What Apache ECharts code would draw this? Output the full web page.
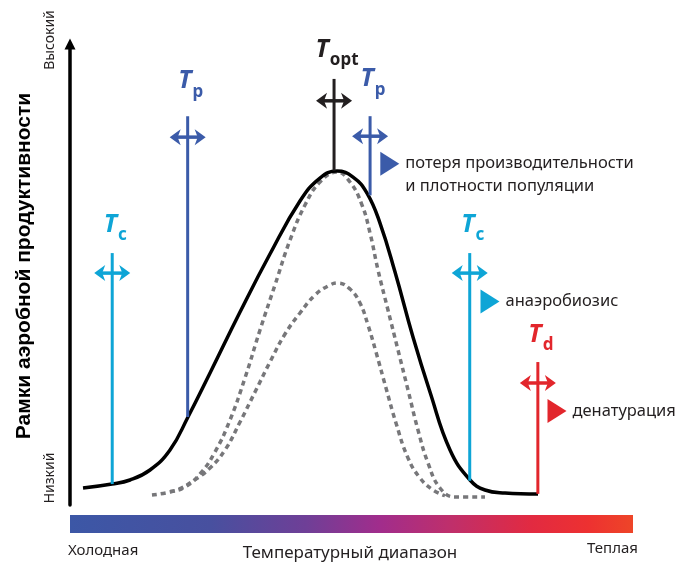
<!DOCTYPE html>
<html>
<head>
<meta charset="utf-8">
<script src="https://cdn.jsdelivr.net/npm/echarts@6/dist/echarts.min.js"></script>
<style>
html,body{margin:0;padding:0;background:#fff;}
#chart{width:676px;height:566px;}
</style>
</head>
<body>
<div id="chart"></div>
<script>
// ---- data (temperature 0..100 across the bar, aerobic scope 0..99) ----
const performanceCurve = [
  [2.31,3.65],[7.46,4.51],[10.66,5.37],[14.21,7.52],[17.76,11.81],[20.96,18.90],
  [24.87,28.34],[30.20,41.44],[35.52,53.90],[40.85,65.28],[44.40,70.22],[47.42,71.72],
  [50.27,70.43],[52.75,67.00],[55.06,60.55],[57.73,50.03],[60.92,36.07],[63.94,24.26],
  [67.50,11.81],[71.05,5.37],[73.71,3.22],[77.26,2.58],[83.13,2.36]
];
const upperDashed = [
  [14.56,2.15],[17.76,2.79],[20.43,3.87],[23.09,6.66],[25.75,11.38],[28.42,18.25],
  [31.08,27.27],[33.75,37.58],[36.41,47.24],[39.08,56.90],[41.74,64.42],[44.40,69.36],
  [47.42,71.51],[49.73,69.36],[51.87,64.42],[53.29,58.41],[54.71,50.46],[56.48,41.87],
  [58.26,33.28],[60.04,24.69],[61.81,16.10],[63.59,9.02],[65.72,3.65],[68.38,1.72],[73.71,1.72]
];
const lowerDashed = [
  [17.76,2.90],[19.01,3.22],[21.85,5.15],[24.87,7.95],[27.53,11.81],[30.20,17.82],
  [32.86,24.26],[35.52,30.71],[38.19,36.72],[40.85,41.23],[43.52,45.09],[45.83,47.03],
  [47.60,47.67],[49.73,46.38],[51.51,43.38],[52.93,38.65],[54.35,32.85],[56.13,25.12],
  [57.90,17.61],[60.04,10.09],[62.17,5.80],[64.48,3.22],[66.60,2.00]
];
const thresholdSub   = ['c','p','opt','p','c','d'];
const thresholdX     = [7.5, 20.9, 46.9, 53.3, 71.0, 83.1];
const thresholdBase  = [4.5, 18.9, 71.8, 66.5, 5.2, 2.4];
const thresholdTop   = [54.1, 83.5, 91.5, 83.5, 54.1, 30.7];
const thresholdArrow = [49.8, 79.0, 86.8, 79.2, 49.8, 26.2];
const thresholdLabel = [58.4, 89.2, 96.0, 89.6, 58.4, 34.8];
const thresholdColor = ['#0ea5d6','#3b5ba9','#231f20','#3b5ba9','#0ea5d6','#e2262c'];

const noteText  = ['потеря производительности\nи плотности популяции','анаэробиозис','денатурация'];
const noteX     = [56.8, 74.6, 86.5];
const noteY     = [73.3, 43.7, 20.2];
const noteColor = ['#3b5ba9','#0ea5d6','#e2262c'];

const axisLow = 'Низкий', axisHigh = 'Высокий';
const axisTitle = 'Рамки аэробной продуктивности';
const tempLow = 'Холодная', tempHigh = 'Теплая', tempTitle = 'Температурный диапазон';

// ---- chart ----
const chart = echarts.init(document.getElementById('chart'), null, {renderer:'canvas'});
const FONT = '"Noto Sans", "Open Sans", sans-serif';
const INK = '#231f20';

const thresholdData = thresholdX.map((x,i)=>[x, thresholdBase[i], thresholdTop[i], thresholdArrow[i], thresholdLabel[i]]);

function headPts(tipX, y, dir){
  return [[tipX, y],[tipX - dir*11, y-8],[tipX - dir*8, y],[tipX - dir*11, y+8]];
}

function renderThreshold(params, api){
  const i = params.dataIndex;
  const x = api.value(0);
  const pb = api.coord([x, api.value(1)]);
  const pt = api.coord([x, api.value(2)]);
  const pa = api.coord([x, api.value(3)]);
  const pl = api.coord([x, api.value(4)]);
  const c = thresholdColor[i];
  const cx = pb[0];
  const half = 18;
  return {
    type:'group',
    children:[
      {type:'line', shape:{x1:cx,y1:pb[1],x2:cx,y2:pt[1]}, style:{stroke:c,lineWidth:3}},
      {type:'line', shape:{x1:cx-half+6,y1:pa[1],x2:cx+half-6,y2:pa[1]}, style:{stroke:c,lineWidth:3.5}},
      {type:'polygon', shape:{points:headPts(cx-half, pa[1], -1)}, style:{fill:c}},
      {type:'polygon', shape:{points:headPts(cx+half, pa[1], 1)}, style:{fill:c}},
      {type:'text', x: cx+3, y: pl[1]+11, style:{
        text:'{t|T}{s|'+thresholdSub[i]+'}',
        align:'center', verticalAlign:'bottom',
        rich:{
          t:{fontFamily:FONT, fontSize:25, fontWeight:'bold', fontStyle:'italic', fill:c, lineHeight:25, padding:[0,1,7,0], verticalAlign:'bottom'},
          s:{fontFamily:FONT, fontSize:17, fontWeight:'bold', fill:c, lineHeight:18, verticalAlign:'bottom'}
        }
      }}
    ]
  };
}

const option = {
  backgroundColor:'#fff',
  animation:false,
  grid:{left:70, right:43, top:44, bottom:61},
  xAxis:{type:'value', min:0, max:100, show:false},
  yAxis:{
    type:'value', min:0, max:99,
    splitLine:{show:false}, axisTick:{show:false}, axisLabel:{show:false},
    axisLine:{show:true, symbol:['none','triangle'], symbolSize:[11,11],
      lineStyle:{color:'#000', width:3.5}}
  },
  series:[
    {type:'line', data:upperDashed, smooth:0.45, symbol:'none', z:2,
      lineStyle:{color:'#77777a', width:3.5, type:[5,4]}},
    {type:'line', data:lowerDashed, smooth:0.45, symbol:'none', z:2,
      lineStyle:{color:'#77777a', width:3.5, type:[5,4]}},
    {type:'line', data:performanceCurve, smooth:0.45, symbol:'none', z:3,
      lineStyle:{color:'#000', width:3.5}},
    {type:'custom', data:thresholdData, renderItem:renderThreshold, z:4, clip:false},
    {type:'scatter', z:5,
      data:noteX.map((x,i)=>({value:[x,noteY[i]], itemStyle:{color:noteColor[i], opacity:1},
        label:{offset: i===0 ? [0,11] : [0,0]}})),
      symbol:'triangle', symbolRotate:-90, symbolSize:[24,19],
      itemStyle:{opacity:1},
      label:{show:true, position:'right', distance:6,
        formatter:(p)=>noteText[p.dataIndex],
        color:INK, fontFamily:FONT, fontSize:16.5, lineHeight:23}}
  ],
  graphic:[
    {type:'rect', shape:{x:70,y:515,width:563,height:18}, style:{
      fill:new echarts.graphic.LinearGradient(0,0,1,0,[
        {offset:0,color:'#3c57a6'},{offset:0.25,color:'#48509f'},{offset:0.42,color:'#6f3f97'},
        {offset:0.55,color:'#a12d8c'},{offset:0.68,color:'#c02f6a'},{offset:0.82,color:'#e22a41'},
        {offset:0.92,color:'#ed3131'},{offset:1,color:'#ee4528'}])}},
    {type:'text', x:68, y:551, style:{text:tempLow, fontFamily:FONT, fontSize:15, fill:INK, align:'left', verticalAlign:'middle'}},
    {type:'text', x:350, y:553, style:{text:tempTitle, fontFamily:FONT, fontSize:17, fill:INK, align:'center', verticalAlign:'middle'}},
    {type:'text', x:638, y:549, style:{text:tempHigh, fontFamily:FONT, fontSize:15, fill:INK, align:'right', verticalAlign:'middle'}},
    {type:'text', x:50, y:40, rotation:Math.PI/2, style:{text:axisHigh, fontFamily:FONT, fontSize:14, fill:INK, align:'center', verticalAlign:'middle'}},
    {type:'text', x:50, y:478, rotation:Math.PI/2, style:{text:axisLow, fontFamily:FONT, fontSize:14, fill:INK, align:'center', verticalAlign:'middle'}},
    {type:'text', x:24, y:266, rotation:Math.PI/2, style:{text:axisTitle, fontFamily:'"Liberation Sans", Arial, sans-serif', fontSize:21, fontWeight:'bold', fill:'#000', align:'center', verticalAlign:'middle'}}
  ]
};
chart.setOption(option);
</script>
</body>
</html>
